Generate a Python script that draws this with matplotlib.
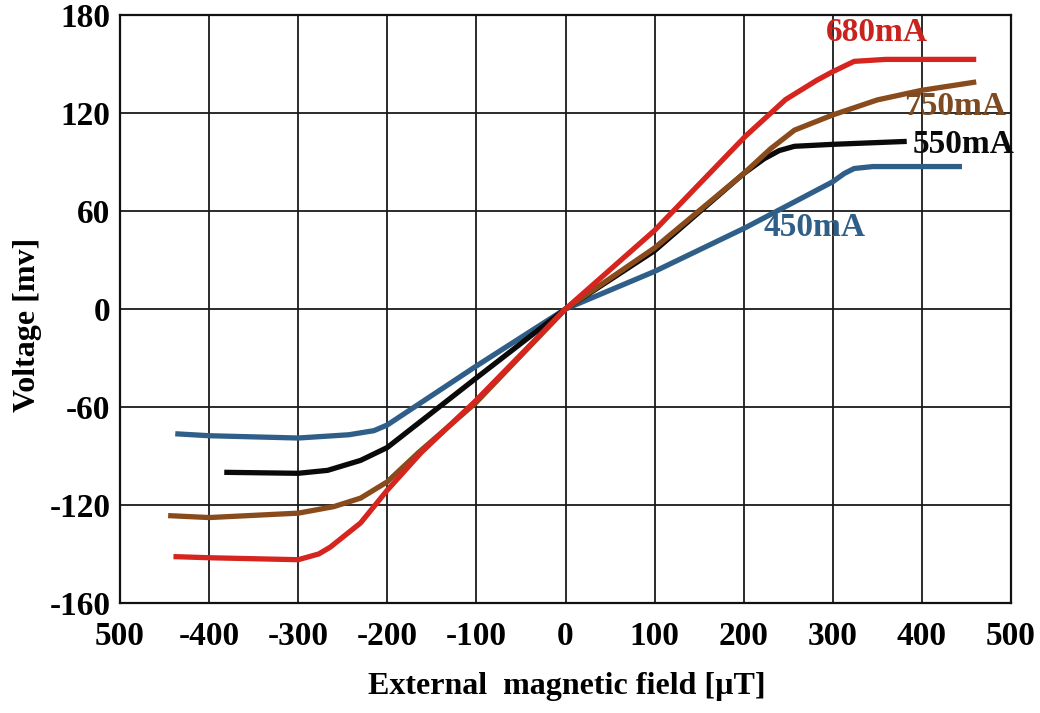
import matplotlib
matplotlib.use('Agg')
import matplotlib.pyplot as plt

plt.rcParams['font.family'] = ['Liberation Serif', 'DejaVu Serif']
plt.rcParams['font.weight'] = 'bold'
plt.rcParams['axes.labelweight'] = 'bold'

# Werte (Feld in uT, Spannung in mV)
x_450 = [-438, -400, -300, -243, -215, -200, -100, 0, 100, 202, 300, 313, 324, 345, 445]
y_450 = [-76.4, -77.6, -79, -77, -74.5, -71, -34.9, 0, 23, 49.8, 77.9, 83, 86, 87.2, 87.2]

x_550 = [-383, -300, -267, -230, -200, -100, 0, 100, 200, 223, 240, 257, 300, 383]
y_550 = [-100, -100.6, -98.8, -92.7, -84.8, -42.2, 0, 35.7, 82.9, 92, 97, 99.6, 100.8, 102.6]

x_750 = [-446, -400, -300, -260, -230, -200, -165, -101, 0, 100, 200, 230, 257, 300, 350, 400, 461]
y_750 = [-126.5, -127.7, -125, -121, -115.8, -105.8, -87.9, -57.6, 0, 37.4, 82.9, 98, 109.5, 118.8, 128, 133.9, 139]

x_680 = [-440, -400, -300, -277, -264, -230, -200, -162, -101, 0, 100, 202, 247, 282, 300, 324, 359, 461]
y_680 = [-151.6, -152.3, -153.5, -150, -145.8, -131, -110.9, -87.9, -56.3, 0, 48.1, 105.8, 128.2, 140, 145.3, 151.6, 152.8, 152.8]

xticks = [-500, -400, -300, -200, -100, 0, 100, 200, 300, 400, 500]
xticklabels = ['500', '-400', '-300', '-200', '-100', '0', '100', '200', '300', '400', '500']
yticks = [180, 120, 60, 0, -60, -120, -180]
yticklabels = ['180', '120', '60', '0', '-60', '-120', '-160']

fig = plt.figure(figsize=(10.4, 7.13), dpi=100)
ax = fig.add_axes([0.1154, 0.1543, 0.8567, 0.8247])

kw = dict(lw=3.8, solid_joinstyle='round', solid_capstyle='butt')
ax.plot(x_450, y_450, '-', color='#2f5f88', **kw)
ax.plot(x_550, y_550, '-', color='#0a0a0a', **kw)
ax.plot(x_750, y_750, '-', color='#8a4b1c', **kw)
ax.plot(x_680, y_680, '-', color='#d6251f', **kw)

ax.text(349, 169, '680mA', color='#c8231e', fontsize=24, ha='center', va='center')
ax.text(437, 124, '750mA', color='#7d4a22', fontsize=24, ha='center', va='center')
ax.text(447, 101, '550mA', color='#0a0a0a', fontsize=24, ha='center', va='center')
ax.text(279, 50, '450mA', color='#2f5f88', fontsize=24, ha='center', va='center')

ax.set_xlim(-500, 500)
ax.set_ylim(-180, 180)
ax.set_xticks(xticks, labels=xticklabels)
ax.set_yticks(yticks, labels=yticklabels)
ax.tick_params(axis='both', length=0, labelsize=24)
ax.tick_params(axis='x', pad=13)
ax.tick_params(axis='y', pad=7)
ax.grid(True, color='#1a1a1a', lw=1.3)
ax.set_axisbelow(True)
for s in ax.spines.values():
    s.set_linewidth(1.6)
    s.set_color('#111111')

ax.set_xlabel('External  magnetic field [\u00b5T]', fontsize=23)
ax.set_ylabel('Voltage [mv]', fontsize=23)
ax.xaxis.set_label_coords(0.502, -0.118)
ax.yaxis.set_label_coords(-0.088, 0.473)

plt.savefig('out.png', dpi=100)
